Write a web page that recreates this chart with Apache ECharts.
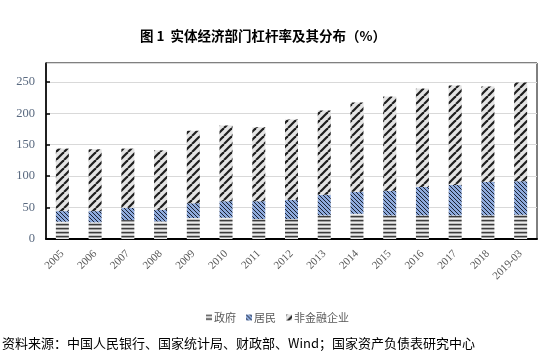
<!DOCTYPE html>
<html><head><meta charset="utf-8">
<script src="https://cdn.jsdelivr.net/npm/echarts@6/dist/echarts.min.js"></script>
<style>html,body{margin:0;padding:0;background:#fff}#c{width:555px;height:364px}</style>
</head><body><div id="c"></div>
<script>
const categories = ['2005','2006','2007','2008','2009','2010','2011','2012','2013','2014','2015','2016','2017','2018','2019-03'];
const gov = [27.5, 26.5, 30.1, 28.0, 33.3, 33.8, 31.7, 31.7, 37.5, 40.1, 37.5, 37.5, 37.5, 37.5, 38.5];
const household = [16.9, 17.9, 19.5, 18.5, 23.7, 26.4, 28.5, 30.6, 32.8, 34.9, 39.1, 45.4, 48.6, 53.4, 53.5];
const corporate = [99.4, 98.3, 94.2, 94.5, 115.3, 120.5, 117.4, 128.0, 134.2, 142.2, 150.1, 156.5, 158.1, 151.7, 156.9];
const seriesNames = ['政府', '居民', '非金融企业'];
const yTicks = [0, 50, 100, 150, 200, 250];

function govPattern() {
  const c = document.createElement('canvas'); c.width = 8; c.height = 4;
  const g = c.getContext('2d');
  const rows = ['#3c3c3c', '#a0a0a0', '#ececec', '#c4c4c4'];
  rows.forEach((col, i) => { g.fillStyle = col; g.fillRect(0, i, 8, 1); });
  return c;
}
function hhPattern() {
  const c = document.createElement('canvas'); c.width = 8; c.height = 8;
  const g = c.getContext('2d');
  g.fillStyle = '#8eaadc'; g.fillRect(0, 0, 8, 8);
  g.strokeStyle = '#1a2233'; g.lineWidth = 1;
  for (let x = -8; x <= 8; x += 4) { g.beginPath(); g.moveTo(x, 0); g.lineTo(x + 8, 8); g.stroke(); }
  return c;
}
function corpPattern() {
  const c = document.createElement('canvas'); c.width = 8; c.height = 8;
  const g = c.getContext('2d');
  g.fillStyle = '#e4e4e4'; g.fillRect(0, 0, 8, 8);
  g.strokeStyle = '#1e1e1e'; g.lineWidth = 2.2;
  for (let x = -8; x <= 16; x += 8) { g.beginPath(); g.moveTo(x, 8); g.lineTo(x + 8, 0); g.stroke(); }
  return c;
}
const fills = [govPattern(), hhPattern(), corpPattern()].map(cv => ({ image: cv, repeat: 'repeat' }));
const values = [gov, household, corporate];

const chart = echarts.init(document.getElementById('c'), null, { renderer: 'canvas' });
chart.setOption({
  animation: false,
  backgroundColor: '#fff',
  title: {
    text: '图 1  实体经济部门杠杆率及其分布（%）',
    left: 258, top: 24, textAlign: 'center',
    textStyle: { fontFamily: 'Noto Sans CJK SC', fontWeight: 'bold', fontSize: 13.5, color: '#000' }
  },
  grid: { left: 46, top: 63, right: 18, bottom: 125, show: true, borderColor: '#000', borderWidth: 1 },
  legend: {
    data: seriesNames, left: 'center', top: 307, itemWidth: 6, itemHeight: 6, itemGap: 10,
    icon: 'rect',
    textStyle: { fontFamily: 'Noto Sans CJK SC', fontSize: 11, color: '#595959', padding: [0, 0, 0, -3] }
  },
  graphic: [{
    type: 'text', left: 2, top: 337,
    style: { text: '资料来源：中国人民银行、国家统计局、财政部、Wind；国家资产负债表研究中心', fontFamily: 'Noto Sans CJK SC', fontSize: 13, fill: '#000' }
  }],
  xAxis: {
    type: 'category', data: categories,
    axisLine: { lineStyle: { color: '#000', width: 2 } },
    axisTick: { inside: true, length: 4, lineStyle: { color: '#000', width: 1.5 } },
    axisLabel: { rotate: 45, margin: 13, fontFamily: 'Liberation Serif', fontSize: 11, color: '#595959', interval: 0 }
  },
  yAxis: {
    type: 'value', min: 0, max: 280, interval: 50,
    axisLine: { show: true, lineStyle: { color: '#000', width: 1.5 } },
    axisTick: { show: true, inside: true, length: 4, lineStyle: { color: '#000', width: 1.5 } },
    axisLabel: { showMaxLabel: false, margin: 11, fontFamily: 'Liberation Serif', fontSize: 12.5, color: '#5a6a80',
      formatter: v => (yTicks.indexOf(v) >= 0 ? String(v) : '') },
    splitLine: { lineStyle: { color: '#d9d9d9', width: 1 } }
  },
  series: seriesNames.map((n, i) => ({
    name: n, type: 'bar', stack: 'total', barWidth: 13, data: values[i],
    itemStyle: { color: fills[i] }
  }))
});
</script></body></html>
